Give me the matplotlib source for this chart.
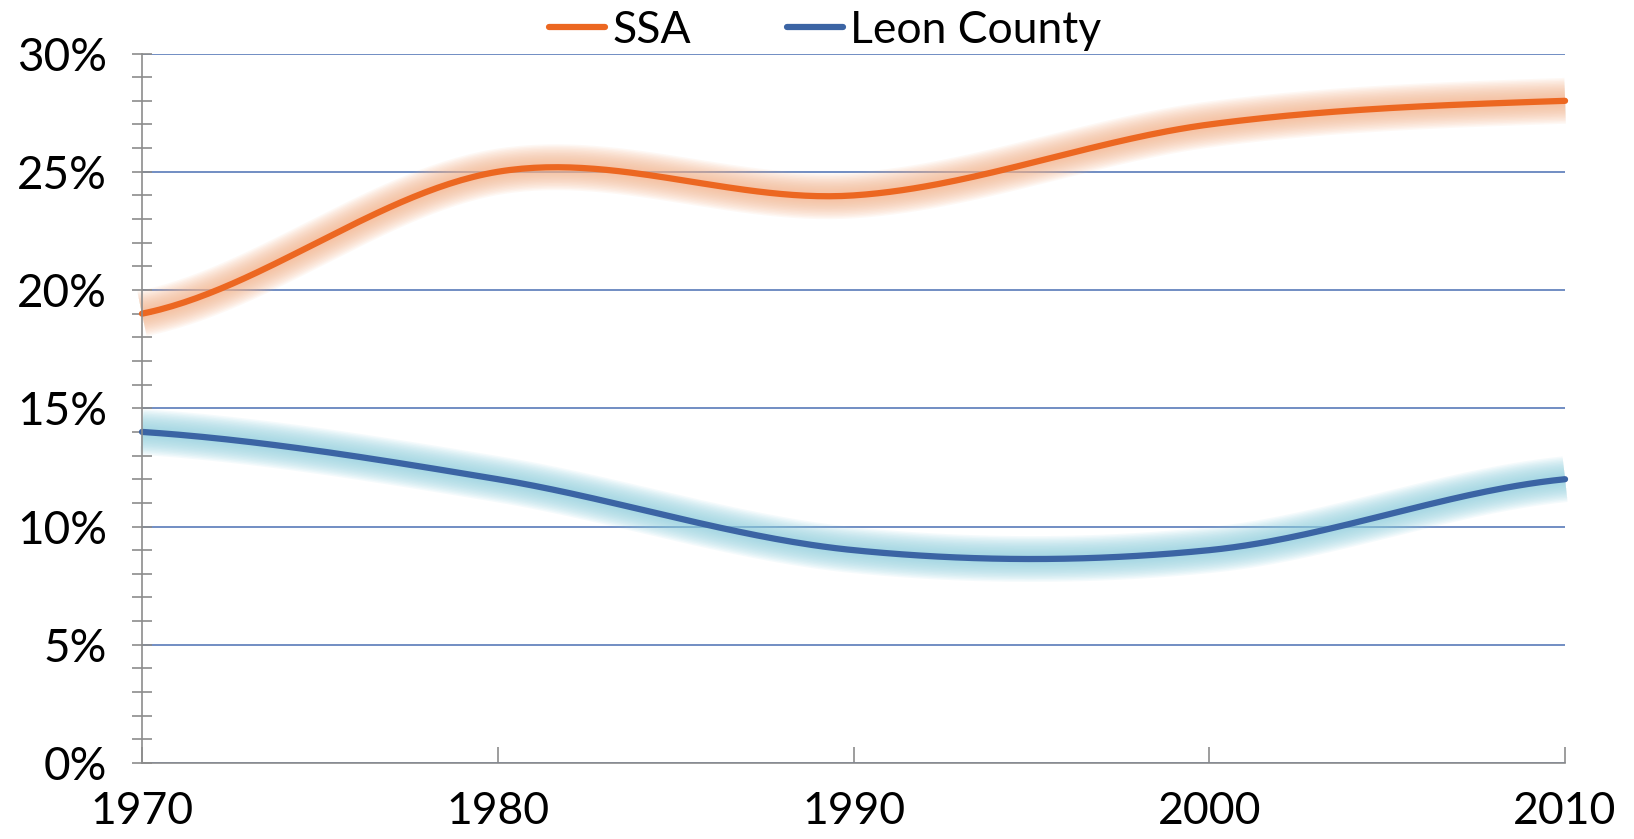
import numpy as np
import matplotlib
matplotlib.use("Agg")
import matplotlib.pyplot as plt
from matplotlib.ticker import MultipleLocator, FuncFormatter

plt.rcParams["font.family"] = ["Lato", "DejaVu Sans"]

YEARS = [1970, 1980, 1990, 2000, 2010]
SSA = [19, 25, 24, 27, 28]
LEON = [14, 12, 9, 9, 12]

C_SSA = "#EC6721"
C_SSA_GLOW = "#F5B48C"
C_LEON = "#3B64A4"
C_LEON_GLOW = "#8FD0DE"
C_GRID = "#4A6FB3"
C_AXIS = "#8C8C8C"


def smooth(xs, ys, n=60):
    """Catmull-Rom style curve through the points (like a spreadsheet 'smoothed line')."""
    xs = np.asarray(xs, float)
    ys = np.asarray(ys, float)
    px = np.concatenate([[xs[0]], xs, [xs[-1]]])
    py = np.concatenate([[ys[0]], ys, [ys[-1]]])
    ox, oy = [], []
    for i in range(1, len(xs)):
        x0, x1 = px[i], px[i + 1]
        y0, y1 = py[i], py[i + 1]
        m0 = (py[i + 1] - py[i - 1]) / 2
        m1 = (py[i + 2] - py[i]) / 2
        t = np.linspace(0, 1, n)
        h00 = 2 * t**3 - 3 * t**2 + 1
        h10 = t**3 - 2 * t**2 + t
        h01 = -2 * t**3 + 3 * t**2
        h11 = t**3 - t**2
        ox.append(x0 + (x1 - x0) * t)
        oy.append(h00 * y0 + h10 * m0 + h01 * y1 + h11 * m1)
    return np.concatenate(ox), np.concatenate(oy)


fig = plt.figure(figsize=(16.34, 8.39), dpi=100)
ax = fig.add_axes([0.0869, 0.0906, 0.8709, 0.8456])

for vals, col, glow, lab in [(SSA, C_SSA, C_SSA_GLOW, "SSA"),
                             (LEON, C_LEON, C_LEON_GLOW, "Leon County")]:
    x, y = smooth(YEARS, vals)
    for w in np.linspace(33, 6, 14):
        ax.plot(x, y, color=glow, lw=w, alpha=0.09, solid_capstyle="butt",
                clip_on=False, zorder=2)
    ax.plot(x, y, color=col, lw=4.5, solid_capstyle="round", label=lab,
            clip_on=False, zorder=3)

ax.set_xlim(1970, 2010)
ax.set_ylim(0, 30)
ax.set_xticks(YEARS)
ax.yaxis.set_major_locator(MultipleLocator(5))
ax.yaxis.set_minor_locator(MultipleLocator(1))
ax.yaxis.set_major_formatter(FuncFormatter(lambda v, _: f"{v:.0f}%"))

ax.grid(True, axis="y", which="major", color=C_GRID, lw=1.1, zorder=1)
ax.set_axisbelow(True)
for s in ["top", "right"]:
    ax.spines[s].set_visible(False)
for s in ["left", "bottom"]:
    ax.spines[s].set_color(C_AXIS)
    ax.spines[s].set_linewidth(1.2)
    ax.spines[s].set_zorder(4)

ax.tick_params(axis="y", which="both", direction="inout", length=14.4, width=1.2,
               color=C_AXIS, labelsize=33, pad=18)
ax.tick_params(axis="x", which="major", direction="in", length=11.5, width=1.2,
               color=C_AXIS, labelsize=32, pad=20)

fig.legend(loc="center", bbox_to_anchor=(0.505, 0.964), ncol=2, frameon=False,
           fontsize=32, handlelength=1.26, handletextpad=0.16, columnspacing=2.15,
           borderaxespad=0, borderpad=0)

fig.savefig("out.png", dpi=100)
